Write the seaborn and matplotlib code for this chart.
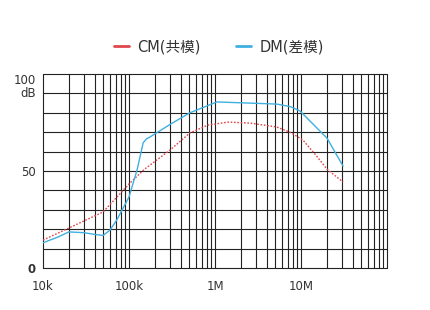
import numpy as np
import pandas as pd
import matplotlib
matplotlib.use("Agg")
import matplotlib.pyplot as plt
import seaborn as sns
from matplotlib.lines import Line2D

# Data (frequency in Hz, attenuation in dB)
dm_freq = [1e4, 1.5e4, 2e4, 3e4, 4e4, 5e4, 6e4, 7.2e4, 1e5, 1.24e5, 1.46e5, 1.6e5, 1.75e5, 3e5, 5.1e5, 1.05e6, 5.2e6, 7.5e6, 9.7e6, 2.0e7, 3.08e7]
dm_db = [13.0, 16.0, 18.6, 18.2, 17.3, 16.8, 19.5, 24.7, 36.6, 50.5, 64.5, 66.6, 67.5, 74.0, 80.0, 85.6, 84.5, 83.2, 81.0, 67.0, 52.6]
cm_freq = [1e4, 2e4, 5e4, 1e5, 1.5e5, 3e5, 5.1e5, 8.3e5, 1.42e6, 2.55e6, 5.2e6, 7.45e6, 1.05e7, 1.5e7, 2.0e7, 3.08e7]
cm_db = [14.4, 20.6, 28.9, 43.3, 50.8, 60.8, 69.6, 73.7, 75.2, 74.7, 72.7, 70.0, 66.0, 58.0, 51.0, 44.3]
x_ticks = [1e4, 1e5, 1e6, 1e7]
x_labels = ["10k", "100k", "1M", "10M"]
y_ticks = [0, 50, 100]
y_labels = ["0", "50", "100\ndB"]
series_names = ["CM(共模)", "DM(差模)"]

sns.set_style("white")
plt.rcParams['font.family'] = ['DejaVu Sans', 'Noto Sans CJK SC']

fig = plt.figure(figsize=(4.31, 3.10), dpi=100)
ax = fig.add_axes([43/431, 42/310, (387-43)/431, (268-74)/310])

df = pd.concat([
    pd.DataFrame({"f": cm_freq, "dB": cm_db, "s": series_names[0]}),
    pd.DataFrame({"f": dm_freq, "dB": dm_db, "s": series_names[1]}),
])

red = "#e0474c"
blue = "#3fb0e0"
sns.lineplot(data=df, x="f", y="dB", hue="s", palette=[red, blue], ax=ax,
             legend=False, sort=False, linewidth=1.0, zorder=3)
ax.lines[0].set_linestyle((0, (1.2, 1.2)))

ax.set_xscale("log")
ax.set_xlim(1e4, 1e8)
ax.set_ylim(0, 100)

# grid
gc = "#222222"
for dec in [1e4, 1e5, 1e6, 1e7]:
    for m in range(1, 10):
        ax.axvline(dec * m, color=gc, lw=0.8, zorder=1, clip_on=False)
ax.axvline(1e8, color=gc, lw=0.8, zorder=1, clip_on=False)
for yv in range(0, 101, 10):
    ax.axhline(yv, color=gc, lw=0.8, zorder=1, clip_on=False)

ax.set_xticks(x_ticks)
ax.set_xticklabels(x_labels)
ax.set_xticks([], minor=True)
ax.set_yticks(y_ticks)
ax.set_yticklabels(y_labels)
ax.tick_params(axis="x", length=0, labelsize=8.5, labelcolor="#333333", pad=9)
ax.tick_params(axis="y", length=0, labelsize=8.5, labelcolor="#333333", pad=5)
for lab in ax.get_yticklabels():
    lab.set_linespacing(1.0)
ax.get_yticklabels()[0].set_fontweight("bold")
ax.get_yticklabels()[2].set_verticalalignment("top")
ax.set_xlabel("")
ax.set_ylabel("")
for sp in ax.spines.values():
    sp.set_visible(False)

handles = [Line2D([], [], color=red, lw=2), Line2D([], [], color=blue, lw=2)]
fig.legend(handles, series_names, loc="center", bbox_to_anchor=(0.508, 1 - 47/310),
           ncol=2, frameon=False, fontsize=10.5, handlelength=1.0, handletextpad=0.6,
           columnspacing=2.4, labelcolor="#333333")

fig.savefig("out.png", dpi=100)
